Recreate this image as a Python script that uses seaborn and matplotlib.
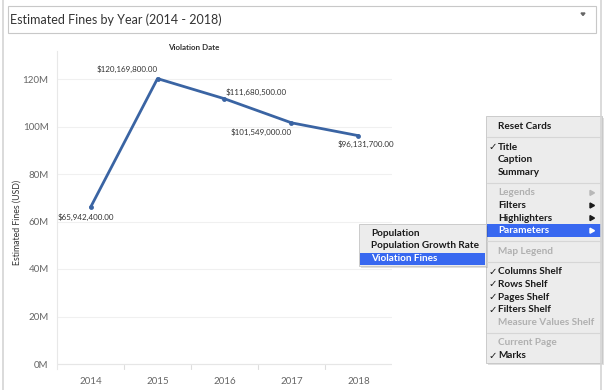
import matplotlib
matplotlib.use("Agg")
import matplotlib.pyplot as plt
import seaborn as sns
import pandas as pd
from matplotlib.patches import Rectangle, Polygon

years = ["2014", "2015", "2016", "2017", "2018"]
fines = [65942400.00, 120169800.00, 111680500.00, 101549000.00, 96131700.00]
y_ticks = [0, 20e6, 40e6, 60e6, 80e6, 100e6, 120e6]
y_tick_labels = ["0M", "20M", "40M", "60M", "80M", "100M", "120M"]

menu_items = ["Reset Cards", "-", "Title", "Caption", "Summary", "-", "Legends", "Filters",
              "Highlighters", "Parameters", "-", "Map Legend", "-", "Columns Shelf", "Rows Shelf",
              "Pages Shelf", "Filters Shelf", "Measure Values Shelf", "-", "Current Page", "Marks"]
menu_checked = ["Title", "Columns Shelf", "Rows Shelf", "Pages Shelf", "Filters Shelf", "Marks"]
menu_disabled = ["Legends", "Map Legend", "Measure Values Shelf", "Current Page"]
menu_arrows = ["Legends", "Filters", "Highlighters", "Parameters"]
sub_items = ["Population", "Population Growth Rate", "Violation Fines"]

df = pd.DataFrame({"Year": years, "Fines": fines})

sns.set_style("white")
plt.rcParams["font.family"] = ["Lato", "DejaVu Sans"]

W, H = 606, 390
fig = plt.figure(figsize=(W / 100, H / 100), dpi=100)
fig.patch.set_facecolor("white")

# chart axes placed in pixel terms
L, R, T, B = 57, 392, 50.5, 368.75
ax = fig.add_axes([L / W, 1 - B / H, (R - L) / W, (B - T) / H])
line_col = "#3a64a3"
sns.lineplot(data=df, x="Year", y="Fines", ax=ax, color=line_col, linewidth=2,
             marker="o", markersize=3.5, markeredgewidth=0, sort=False)
ax.set_xlim(-0.5, 4.5)
ax.set_ylim(-2e6, 132e6)
ax.set_yticks(y_ticks)
ax.set_yticklabels(y_tick_labels)
ax.tick_params(axis="both", labelsize=7, colors="#666666", length=0, pad=6)
ax.grid(axis="y", color="#f0f0f0", linewidth=0.8)
ax.axhline(0, color="#e6e6e6", linewidth=0.8)
for s in ["top", "right", "bottom"]:
    ax.spines[s].set_visible(False)
ax.spines["left"].set_color("#e8e8e8")
ax.spines["left"].set_linewidth(0.8)
ax.set_xlabel("")
ax.set_ylabel("Estimated Fines (USD)", fontsize=6.3, color="#333333")
ax.yaxis.set_label_coords(-0.105, 0.46)
for i in range(1, 5):
    ax.plot([i - 0.5, i - 0.5], [-2e6, -0.5e6], color="#dddddd", linewidth=0.8, clip_on=False)

# data labels, offsets in pixels
offsets = [(-5, -10, "center"), (0, 9, "right"), (1, 7, "left"), (0, -9, "right"), (7, -9, "center")]
for i, (v, (dx, dy, ha)) in enumerate(zip(fines, offsets)):
    ax.annotate("${:,.2f}".format(v), (i, v), xytext=(dx, dy), textcoords="offset pixels",
                fontsize=5.8, color="#333333", ha=ha, va="center")

# overlay for the dashboard frame and menus (pixel coordinates)
ov = fig.add_axes([0, 0, 1, 1], zorder=10)
ov.set_xlim(0, W)
ov.set_ylim(H, 0)
ov.axis("off")
ov.patch.set_alpha(0)

ov.plot([3, 3], [0, H], color="#d4d4d4", linewidth=1.2)
ov.plot([601, 601], [0, H], color="#d4d4d4", linewidth=1.2)
ov.add_patch(Rectangle((8, 6), 588, 27, facecolor="white", edgecolor="#c8c8c8", linewidth=0.8))
ov.text(10, 19.5, "Estimated Fines by Year (2014 - 2018)", fontsize=9, color="#333333",
        va="center", ha="left")
ov.add_patch(Polygon([[581, 13], [585, 13], [583, 15.5]], color="#666666"))
ov.text(194, 47, "Violation Date", fontsize=5.8, fontweight="bold", color="#333333",
        ha="center", va="center")

menu_font = dict(fontsize=7.2, fontweight="bold", va="center", ha="left")
hl_col = "#3868f0"

# main menu
mx0, mx1, my0, my1 = 486, 602, 116, 363
ov.add_patch(Rectangle((mx0 + 1.5, my0 + 2), mx1 - mx0, my1 - my0, facecolor="#000000", alpha=0.12,
                       edgecolor="none"))
ov.add_patch(Rectangle((mx0, my0), mx1 - mx0, my1 - my0, facecolor="#ececec", edgecolor="#c4c4c4",
                       linewidth=0.6))
y = my0 + 10.5
for item in menu_items:
    if item == "-":
        ov.plot([mx0 + 1, mx1 - 1], [y - 2, y - 2], color="#d6d6d6", linewidth=0.8)
        y += 8
        continue
    col = "#b0b0b0" if item in menu_disabled else "#1a1a1a"
    if item == "Parameters":
        ov.add_patch(Rectangle((mx0 + 1, y - 6.2), mx1 - mx0 - 2, 12.4, facecolor=hl_col,
                               edgecolor="none"))
        col = "white"
    ov.text(mx0 + 12, y, item, color=col, **menu_font)
    if item in menu_checked:
        ov.text(mx0 + 2, y, "\u2713", color=col, fontsize=7.3, va="center", ha="left",
                family="DejaVu Sans")
    if item in menu_arrows:
        ov.add_patch(Polygon([[mx0 + 104, y - 2.5], [mx0 + 104, y + 2.5], [mx0 + 108.5, y]],
                             color=col if item != "Legends" else "#b8b8b8"))
    y += 12.6

# submenu
sx0, sx1, sy0, sy1 = 359, 486, 224, 266
ov.add_patch(Rectangle((sx0 + 1.5, sy0 + 2), sx1 - sx0, sy1 - sy0, facecolor="#000000", alpha=0.12,
                       edgecolor="none"))
ov.add_patch(Rectangle((sx0, sy0), sx1 - sx0, sy1 - sy0, facecolor="#ececec", edgecolor="#c4c4c4",
                       linewidth=0.6))
y = sy0 + 9.5
for item in sub_items:
    col = "#1a1a1a"
    if item == "Violation Fines":
        ov.add_patch(Rectangle((sx0 + 1, y - 6), sx1 - sx0 - 2, 12, facecolor=hl_col,
                               edgecolor="none"))
        col = "white"
    ov.text(sx0 + 12, y, item, color=col, **menu_font)
    y += 12.5

fig.savefig("out.png", dpi=100)
